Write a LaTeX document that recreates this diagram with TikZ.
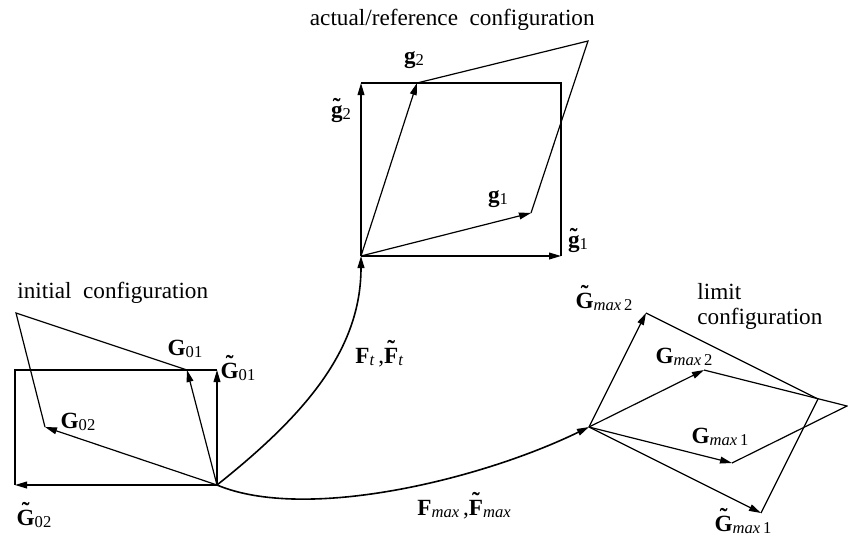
\documentclass[tikz,border=0pt]{standalone}
\usepackage{fontspec}
\setmainfont{Liberation Serif}
\usetikzlibrary{arrows.meta}
\newcommand{\lblfont}{\fontsize{11.6}{12.5}\selectfont\spaceskip=0.5em plus 0.1em}
\newcommand{\subfont}{\fontsize{8.3}{9}\selectfont}
\newcommand{\vsub}[2]{\textbf{#1}\raisebox{-0.25ex}{\subfont #2}}
\newcommand{\tld}[1]{{\setbox0\hbox{\textbf{#1}}\dimen0=\ht0 \advance\dimen0 by -0.85ex
  \ooalign{\box0\cr\hidewidth\raisebox{\dimen0}{\char"02DC}\hidewidth\cr}}}
\newcommand{\mx}{\textit{max}}
\tikzset{
  vec/.style={draw=black, line width=0.6pt, -{Triangle[length=6pt,width=3.4pt]}},
  side/.style={draw=black, line width=0.6pt},
  map/.style={draw=black, line width=0.8pt, -{Triangle[length=6pt,width=3.4pt]}},
  lbl/.style={inner sep=0pt, font=\lblfont, anchor=base},
}

\begin{document}
\begin{tikzpicture}[x=0.5pt,y=-0.5pt]
  \useasboundingbox (0,0) rectangle (848,537);

  % Initial configuration.
  \coordinate (O1) at (217,485);
  \coordinate (G01) at (187,370);
  \coordinate (G02) at (45,427);
  \coordinate (Gt01) at (217,370);
  \coordinate (Gt02) at (15,485);
  \coordinate (C1) at (16,313);
  \coordinate (R1) at (15,370);
  \draw[side] (Gt01) -- (R1) -- (Gt02);
  \draw[side] (G01) -- (C1) -- (G02);
  \draw[vec] (O1) -- (G01);
  \draw[vec] (O1) -- (G02);
  \draw[vec] (O1) -- (Gt01);
  \draw[vec] (O1) -- (Gt02);
  \node[lbl, anchor=base west] (init) at (17,298) {initial configuration};
  \node[lbl] (lG01) at (185,355) {\vsub{G}{01}};
  \node[lbl] (lGt01) at (238,378) {\vsub{\tld{G}}{01}};
  \node[lbl] (lG02) at (78,428) {\vsub{G}{02}};
  \node[lbl] (lGt02) at (34,525) {\vsub{\tld{G}}{02}};

  % Actual/reference configuration.
  \coordinate (O2) at (361,256);
  \coordinate (g1) at (531,213);
  \coordinate (g2) at (417,83);
  \coordinate (gt1) at (561,256);
  \coordinate (gt2) at (361,83);
  \coordinate (C2) at (588,41);
  \coordinate (R2) at (561,83);
  \draw[side] (gt2) -- (R2) -- (gt1);
  \draw[side] (g2) -- (C2) -- (g1);
  \draw[vec] (O2) -- (g1);
  \draw[vec] (O2) -- (g2);
  \draw[vec] (O2) -- (gt1);
  \draw[vec] (O2) -- (gt2);
  \node[lbl, anchor=base east] (actual) at (595,25) {actual/reference configuration};
  \node[lbl] (lg2) at (414,63) {\vsub{g}{2}};
  \node[lbl] (lgt2) at (341,117) {\vsub{\tld{g}}{2}};
  \node[lbl] (lg1) at (498,202) {\vsub{g}{1}};
  \node[lbl] (lgt1) at (578,247) {\vsub{\tld{g}}{1}};

  % Limit configuration.
  \coordinate (O3) at (589,427);
  \coordinate (Gm1) at (732,463);
  \coordinate (Gm2) at (704,370);
  \coordinate (Gtm1) at (761,513);
  \coordinate (Gtm2) at (646,313);
  \coordinate (C3) at (847,406);
  \coordinate (R3) at (818,399);
  \draw[side] (Gtm2) -- (R3) -- (Gtm1);
  \draw[side] (Gm2) -- (C3) -- (Gm1);
  \draw[vec] (O3) -- (Gm1);
  \draw[vec] (O3) -- (Gm2);
  \draw[vec] (O3) -- (Gtm1);
  \draw[vec] (O3) -- (Gtm2);
  \node[inner sep=0pt, font=\lblfont, align=left, anchor=north west] (limit) at (697,283) {limit\\configuration};
  \node[lbl] (lGtm2) at (604,308) {\vsub{\tld{G}}{\mx\,2}};
  \node[lbl] (lGm2) at (684,363) {\vsub{G}{\mx\,2}};
  \node[lbl] (lGm1) at (720,443) {\vsub{G}{\mx\,1}};
  \node[lbl] (lGtm1) at (743,531) {\vsub{\tld{G}}{\mx\,1}};

  % Mappings between the configurations.
  \draw[map] (O1) .. controls (305,415) and (361,350) .. (O2);
  \draw[map] (O1) .. controls (305,522) and (480,480) .. (O3);
  \node[lbl, anchor=base west] (Ft) at (355,363) {\vsub{F}{\textit{t}}\,,\vsub{\tld{F}}{\textit{t}}};
  \node[lbl, anchor=base west] (Fmax) at (417,515) {\vsub{F}{\mx}\,,\vsub{\tld{F}}{\mx}};
\end{tikzpicture}
\end{document}
